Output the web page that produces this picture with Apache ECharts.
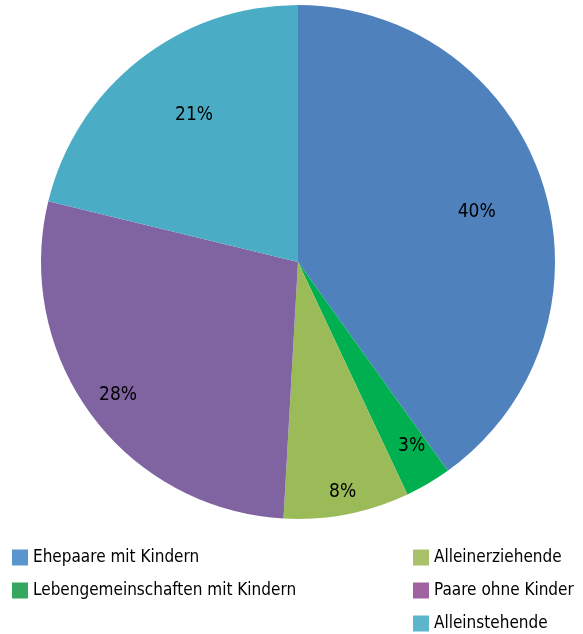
<!DOCTYPE html>
<html>
<head>
<meta charset="utf-8">
<script src="https://cdn.jsdelivr.net/npm/echarts@6/dist/echarts.min.js"></script>
<style>
  html, body { margin: 0; padding: 0; background: #fff; }
  #chart { width: 583px; height: 634px; }
</style>
</head>
<body>
<div id="chart"></div>
<script>
const categories = ['Ehepaare mit Kindern', 'Lebengemeinschaften mit Kindern', 'Alleinerziehende', 'Paare ohne Kinder', 'Alleinstehende'];
const shares = [40.1, 2.9, 7.9, 27.9, 21.2];

const sliceColors = ['#4F81BD', '#00B050', '#9BBB59', '#8064A2', '#4BACC6'];
const legendColors = ['#5B95CF', '#34A65F', '#A9C16A', '#9E63A0', '#5CB5CA'];
// label placement: fraction of the radius, and a small turn (degrees) off the slice middle
const labelRadius = [0.71, 0.83, 0.90, 0.86, 0.69];
const labelTurn = [2.3, -1.3, 0, 0, 3];

const fontFamily = '"Liberation Sans Narrow", "DejaVu Sans Condensed", sans-serif';
const R = 257;

const total = shares.reduce((a, b) => a + b, 0);
let cum = 0;
const pieData = shares.map((v, i) => {
    const mid = (cum + v / 2) / total * Math.PI * 2;
    cum += v;
    const a = mid + labelTurn[i] * Math.PI / 180;
    const f = labelRadius[i] * R;
    const h = 0.5 * R;
    return {
        name: categories[i],
        value: v,
        itemStyle: {color: sliceColors[i]},
        label: {offset: [f * Math.sin(a) - h * Math.sin(mid), -f * Math.cos(a) + h * Math.cos(mid)]}
    };
});

const legendItem = i => ({name: categories[i], itemStyle: {color: legendColors[i]}});

const chart = echarts.init(document.getElementById('chart'));
const legendBase = {
    orient: 'vertical',
    top: 549,
    padding: 0,
    icon: 'rect',
    itemWidth: 16,
    itemHeight: 16,
    itemGap: 16,
    itemTextGap: 6,
    selectedMode: false,
    textStyle: {fontFamily: fontFamily, fontSize: 17, color: '#000'}
};
chart.setOption({
    animation: false,
    legend: [
        Object.assign({}, legendBase, {left: 12, data: [0, 1].map(legendItem)}),
        Object.assign({}, legendBase, {left: 413, data: [2, 3, 4].map(legendItem)})
    ],
    series: [{
        type: 'pie',
        center: [298, 262],
        radius: R,
        startAngle: 90,
        clockwise: true,
        silent: true,
        label: {
            position: 'inside',
            fontFamily: fontFamily,
            fontSize: 19,
            color: '#000',
            formatter: p => Math.round(p.value) + '%'
        },
        labelLine: {show: false},
        itemStyle: {borderWidth: 0},
        data: pieData
    }]
});
</script>
</body>
</html>
